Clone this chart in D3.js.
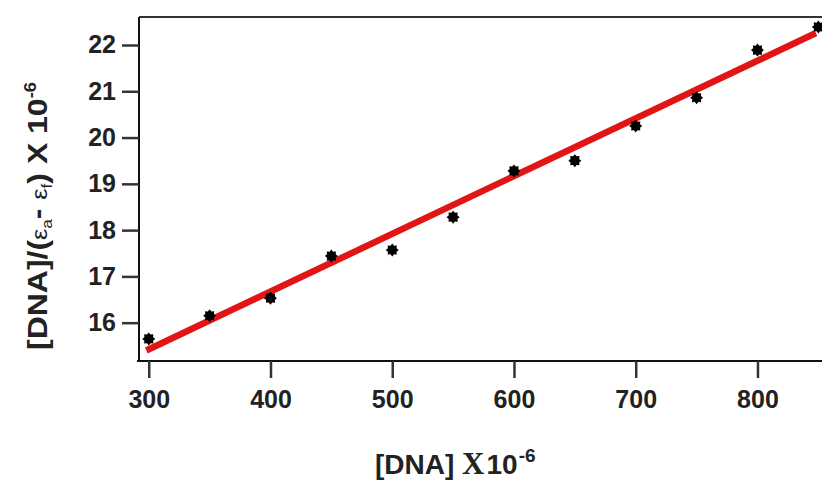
<!DOCTYPE html>
<html>
  <head>
    <meta charset="utf-8">
    <title>DNA binding plot</title>
    <script src="https://d3js.org/d3.v7.min.js"></script>
    <style>
      body { margin: 0; background: #fff; }
      text { font-family: "Liberation Sans", Arial, sans-serif; font-weight: bold; fill: #222; }
    </style>
  </head>

  <body>
    <script>
      // values
      var dna = [300, 350, 400, 450, 500, 550, 600, 650, 700, 750, 800, 850];
      var ratio = [15.65, 16.15, 16.53, 17.44, 17.57, 18.28, 19.28, 19.5, 20.25, 20.86, 21.89, 22.39];
      var fitX = [298, 848];
      var fitY = [15.40, 22.26];
      var xTicks = [300, 400, 500, 600, 700, 800];
      var yTicks = [16, 17, 18, 19, 20, 21, 22];

      var width = 822, height = 481;
      var plotLeft = 139, plotTop = 17, plotBottom = 361;

      var svg = d3.select("body")
        .append("svg")
          .attr("width", width)
          .attr("height", height);

      var x = d3.scaleLinear().domain([292, 853]).range([plotLeft, width]);
      var y = d3.scaleLinear().domain([15.172, 22.605]).range([plotBottom, plotTop]);

      // frame top line
      svg.append("line")
          .attr("x1", plotLeft).attr("x2", width)
          .attr("y1", plotTop).attr("y2", plotTop)
          .style("stroke", "#333")
          .style("stroke-width", 2);

      var xAxis = svg.append("g")
          .attr("transform", "translate(0," + plotBottom + ")")
          .call(d3.axisBottom(x).tickValues(xTicks).tickSize(17).tickSizeOuter(0).tickPadding(12));

      var yAxis = svg.append("g")
          .attr("transform", "translate(" + plotLeft + ",0)")
          .call(d3.axisLeft(y).tickValues(yTicks).tickSize(17).tickSizeOuter(0).tickPadding(6));

      [xAxis, yAxis].forEach(function(g) {
        g.select(".domain").style("stroke", "#111").style("stroke-width", 2);
        g.selectAll(".tick line").style("stroke", "#333").style("stroke-width", 2.5);
        g.selectAll(".tick text")
          .style("font-size", "25px")
          .style("font-family", "'Liberation Sans', Arial, sans-serif")
          .style("font-weight", "bold")
          .style("fill", "#222");
      });
      xAxis.select(".domain").attr("d", "M" + (plotLeft - 2) + ",0H" + width);
      yAxis.select(".domain").attr("d", "M0," + plotTop + "V" + (plotBottom + 1));

      // fitted line
      svg.append("line")
          .attr("x1", x(fitX[0])).attr("y1", y(fitY[0]))
          .attr("x2", x(fitX[1])).attr("y2", y(fitY[1]))
          .style("stroke", "#e21515")
          .style("stroke-width", 6.5);

      // spiky marker
      var spiky = {
        draw: function(ctx, size) {
          var ro = Math.sqrt(size / Math.PI) * 1.25, ri = ro * 0.72;
          for (var i = 0; i < 16; i++) {
            var r = i % 2 ? ri : ro, a = i * Math.PI / 8;
            if (i === 0) ctx.moveTo(r * Math.cos(a), r * Math.sin(a));
            else ctx.lineTo(r * Math.cos(a), r * Math.sin(a));
          }
          ctx.closePath();
        }
      };

      svg.append("g").selectAll("path")
        .data(dna)
        .enter()
        .append("path")
          .attr("transform", function(d, i) { return "translate(" + x(d) + "," + y(ratio[i]) + ")"; })
          .attr("d", d3.symbol().type(spiky).size(85))
          .style("fill", "#000");

      // x title
      var xt = svg.append("text")
          .attr("x", 375)
          .attr("y", 474)
          .style("font-size", "28px");
      xt.append("tspan").text("[DNA] ");
      xt.append("tspan").text("X").style("font-family", "'Liberation Serif', serif").style("font-size", "31px");
      xt.append("tspan").text("10").attr("dx", 2);
      xt.append("tspan").text("-6").attr("dy", -12).attr("dx", 1).style("font-size", "19px");

      // y title
      var yt = svg.append("text")
          .attr("transform", "translate(47,350) rotate(-90)")
          .style("font-size", "28px");
      yt.append("tspan").text("[DNA]/(");
      yt.append("tspan").text("ε").style("font-weight", "normal").style("font-size", "22px");
      yt.append("tspan").text("a").attr("dy", 5).style("font-size", "15px").style("font-weight", "normal");
      yt.append("tspan").text("- ").attr("dy", -5);
      yt.append("tspan").text("ε").style("font-weight", "normal").style("font-size", "22px");
      yt.append("tspan").text("f").attr("dy", 5).style("font-size", "15px").style("font-weight", "normal");
      yt.append("tspan").text(") X 10").attr("dy", -5);
      yt.append("tspan").text("-6").attr("dy", -11).style("font-size", "16px");

      // stretch the y title to the length it has in the picture
      var len = yt.node().getComputedTextLength();
      yt.attr("transform", "translate(47,350) rotate(-90) scale(" + (268 / len) + ",1)");
    </script>
  </body>
</html>
